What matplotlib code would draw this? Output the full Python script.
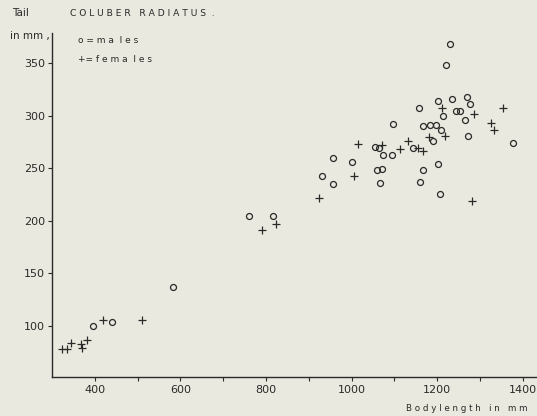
import numpy as np
import matplotlib
matplotlib.use("Agg")
import matplotlib.pyplot as plt

# body length (mm) and tail length (mm)
males_body = [1230, 1220, 1202, 1235, 1269, 1276, 1157, 1214, 1243, 1254, 1264,
              1097, 1166, 1183, 1198, 1208, 1272, 1190, 1376, 1055, 1064, 1074,
              1095, 1143, 957, 1001, 930, 957, 1058, 1072, 1067, 1166, 1160,
              1202, 1206, 760, 815, 582, 440, 396]
males_tail = [368, 348, 314, 316, 318, 311, 307, 300, 305, 305, 296,
              292, 290, 291, 291, 286, 281, 276, 274, 270, 269, 263,
              263, 269, 260, 256, 243, 235, 248, 249, 236, 248, 237,
              254, 226, 205, 205, 137, 104, 100]

females_body = [1210, 1286, 1353, 1325, 1333, 1180, 1218, 1132, 1113, 1155,
                1167, 1070, 1015, 1006, 923, 1281, 790, 824, 509, 419,
                381, 368, 369, 344, 323, 334]
females_tail = [307, 302, 307, 293, 286, 280, 281, 276, 268, 269,
                266, 272, 273, 243, 222, 219, 191, 197, 106, 106,
                87, 83, 79, 84, 78, 78]

bg = '#e9e9df'
ink = '#2a2a2a'

fig = plt.figure(figsize=(5.37, 4.16), dpi=100, facecolor=bg)
ax = fig.add_axes([0.097, 0.094, 0.903, 0.826], facecolor=bg)

ax.plot(males_body, males_tail, 'o', ms=4.3, mfc='none', mec=ink, mew=0.9)
ax.plot(females_body, females_tail, '+', ms=6, color=ink, mew=0.9)

ax.set_xlim(300, 1433)
ax.set_ylim(51.5, 378.5)

for s in ['top', 'right']:
    ax.spines[s].set_visible(False)
for s in ['left', 'bottom']:
    ax.spines[s].set_color(ink)
    ax.spines[s].set_linewidth(1.0)

ax.set_xticks(np.arange(400, 1401, 200))
ax.set_xticks(np.arange(500, 1400, 200), minor=True)
ax.set_yticks(np.arange(100, 351, 50))
ax.tick_params(axis='both', which='both', direction='out', length=3,
               width=0.8, color=ink, labelsize=8, labelcolor=ink, pad=2)
ax.tick_params(axis='x', pad=3)

txt = dict(color=ink, fontsize=7.5, family='DejaVu Sans')
fig.text(12 / 537, 1 - 16 / 416, 'Tail', **txt)
fig.text(10 / 537, 1 - 39 / 416, 'in mm ,', **txt)
fig.text(70 / 537, 1 - 16 / 416, 'C O L U B E R   R A D I A T U S  .',
         color=ink, fontsize=6.6, family='DejaVu Sans')
fig.text(78 / 537, 1 - 43 / 416, 'o = m a  l e s',
         color=ink, fontsize=6.5, family='DejaVu Sans')
fig.text(78 / 537, 1 - 62 / 416, '+= f e m a  l e s',
         color=ink, fontsize=6.5, family='DejaVu Sans')
fig.text(527 / 537, 1 - 411 / 416, 'B o d y l e n g t h   i n   m m',
         ha='right', color=ink, fontsize=6.3, family='DejaVu Sans')

fig.savefig('out.png', dpi=100, facecolor=bg)
